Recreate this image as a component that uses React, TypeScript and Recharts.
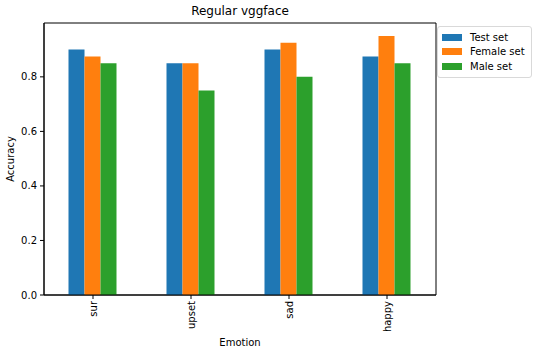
import { BarChart, Bar, XAxis, YAxis, ReferenceArea } from 'recharts'

const emotions = ['sur', 'upset', 'sad', 'happy']
const testSet = [0.9, 0.85, 0.9, 0.875]
const femaleSet = [0.875, 0.85, 0.925, 0.95]
const maleSet = [0.85, 0.75, 0.8, 0.85]
const yTicks = [0, 0.2, 0.4, 0.6, 0.8]

const seriesNames = ['Test set', 'Female set', 'Male set']
const colors = ['#1f77b4', '#ff7f0e', '#2ca02c']
const yMax = 0.9975

const data = emotions.map((e, i) => ({
  emotion: e,
  test: testSet[i],
  female: femaleSet[i],
  male: maleSet[i],
}))

const font = 'DejaVu Sans, sans-serif'

function RotatedTick(props: any) {
  const { x, y, payload } = props
  return (
    <text
      x={x}
      y={y}
      transform={`rotate(-90, ${x}, ${y})`}
      textAnchor="end"
      dominantBaseline="central"
      fontSize={10}
      fontFamily={font}
      fill="#000"
    >
      {payload.value}
    </text>
  )
}

function LegendBox() {
  return (
    <div
      style={{
        position: 'absolute',
        left: 437,
        top: 26,
        border: '1px solid #d9d9d9',
        borderRadius: 3,
        background: '#fff',
        padding: '3px 6px 3px 4px',
        fontFamily: font,
        fontSize: 10,
        color: '#000',
      }}
    >
      {seriesNames.map((n, i) => (
        <div key={n} style={{ display: 'flex', alignItems: 'center', height: 14.5 }}>
          <span style={{ display: 'inline-block', width: 20, height: 7, background: colors[i], marginRight: 8 }} />
          <span>{n}</span>
        </div>
      ))}
    </div>
  )
}

export default function App() {
  return (
    <div style={{ position: 'absolute', left: 0, top: 0, width: 534, height: 354, background: '#fff' }}>
      <div
        style={{
          position: 'absolute',
          left: 44,
          width: 392,
          top: 4,
          textAlign: 'center',
          fontFamily: font,
          fontSize: 12,
        }}
      >
        Regular vggface
      </div>
      <BarChart
        width={534}
        height={354}
        data={data}
        margin={{ top: 23, right: 98, bottom: 0, left: 0 }}
        barCategoryGap="25%"
        barGap={0}
      >
        <XAxis
          dataKey="emotion"
          height={59}
          tick={<RotatedTick />}
          tickSize={4}
          tickMargin={2}
          stroke="#000"
          interval={0}
          label={{ value: 'Emotion', position: 'insideBottom', offset: 8, fontSize: 10, fontFamily: font, fill: '#000' }}
        />
        <YAxis
          width={44}
          domain={[0, yMax]}
          ticks={yTicks}
          tickFormatter={(v: number) => v.toFixed(1)}
          tickSize={4}
          tickMargin={3}
          stroke="#000"
          tick={{ fontSize: 10, fontFamily: font, fill: '#000' }}
          label={{ value: 'Accuracy', angle: -90, position: 'insideLeft', offset: 10, fontSize: 10, fontFamily: font, fill: '#000', style: { textAnchor: 'middle' } }}
        />
        <Bar dataKey="test" name={seriesNames[0]} fill={colors[0]} isAnimationActive={false} />
        <Bar dataKey="female" name={seriesNames[1]} fill={colors[1]} isAnimationActive={false} />
        <Bar dataKey="male" name={seriesNames[2]} fill={colors[2]} isAnimationActive={false} />
        <ReferenceArea y1={0} y2={yMax} fill="none" stroke="#000" strokeWidth={1} ifOverflow="visible" />
      </BarChart>
      <LegendBox />
    </div>
  )
}
